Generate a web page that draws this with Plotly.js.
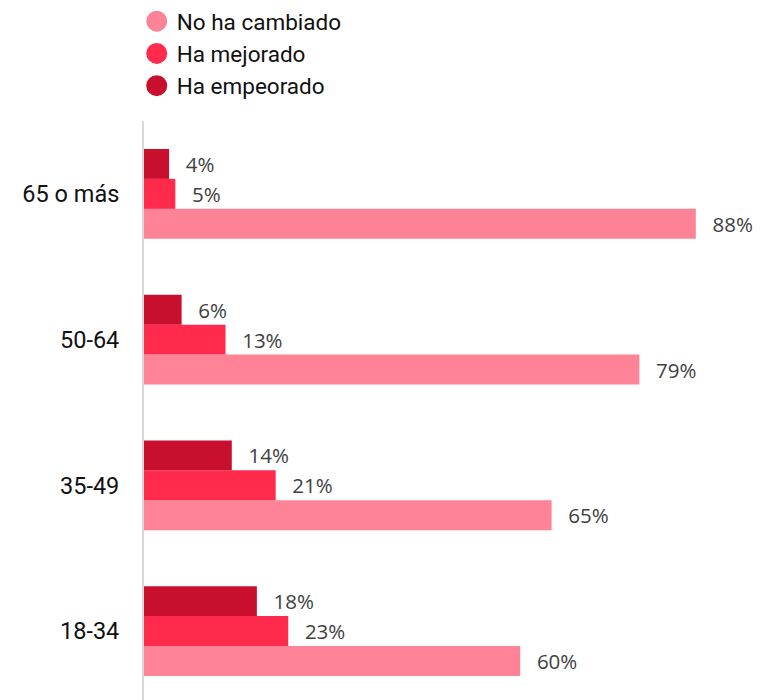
<!DOCTYPE html>
<html>
<head>
<meta charset="utf-8">
<script src="https://cdn.plot.ly/plotly-3.0.1.min.js"></script>
<style>html,body{margin:0;padding:0;background:#fff;}#chart{width:761px;height:700px;}</style>
</head>
<body>
<div id="chart"></div>
<script>
const categories = ["18-34", "35-49", "50-64", "65 o más"];
const seriesNames = ["No ha cambiado", "Ha mejorado", "Ha empeorado"];
const noHaCambiado = [60, 65, 79, 88];
const haMejorado = [23, 21, 13, 5];
const haEmpeorado = [18, 14, 6, 4];
const colors = ["#FF8396", "#FF2A4C", "#C8102E"];

const seriesValues = [noHaCambiado, haMejorado, haEmpeorado];

const traces = [];
seriesValues.forEach((vals, i) => {
  traces.push({
    type: 'bar',
    orientation: 'h',
    name: seriesNames[i],
    y: categories,
    x: vals,
    marker: {color: colors[i]},
    text: vals.map(v => '\u2002\u2009' + v + '%'),
    texttemplate: '%{text}',
    textposition: 'outside',
    textfont: {family: 'Open Sans', size: 20.5, color: '#404040'},
    constraintext: 'none',
    cliponaxis: false,
    showlegend: false,
    hoverinfo: 'skip'
  });
});
seriesNames.forEach((n, i) => {
  traces.push({
    type: 'scatter',
    mode: 'markers',
    name: n,
    x: [null],
    y: [null],
    marker: {color: colors[i], size: 16, symbol: 'circle', line: {color: colors[i], width: 5}},
    showlegend: true
  });
});

const layout = {
  width: 761,
  height: 700,
  margin: {l: 144, r: 10, t: 120, b: 0, pad: 0},
  paper_bgcolor: '#ffffff',
  plot_bgcolor: '#ffffff',
  barmode: 'group',
  bargap: 0.384,
  bargroupgap: 0,
  font: {family: 'Roboto', size: 22, color: '#111111'},
  xaxis: {
    range: [0, 96.8],
    showticklabels: false,
    showgrid: false,
    zeroline: false,
    showline: false,
    fixedrange: true
  },
  yaxis: {
    type: 'category',
    categoryorder: 'array',
    categoryarray: categories,
    range: [-0.473, 3.5],
    showline: true,
    linecolor: '#d9d9d9',
    linewidth: 2,
    showgrid: false,
    zeroline: false,
    ticks: '',
    ticklabelstandoff: 18,
    tickfont: {family: 'Roboto', size: 23.5, color: '#111111'}
  },
  showlegend: true,
  legend: {
    x: -0.012,
    xanchor: 'left',
    y: 1.21,
    yanchor: 'top',
    traceorder: 'normal',
    orientation: 'v',
    font: {family: 'Roboto', size: 22.5, color: '#111111'},
    bgcolor: 'rgba(0,0,0,0)',
    itemclick: false,
    tracegroupgap: 0
  }
};

Plotly.newPlot('chart', traces, layout, {displayModeBar: false, staticPlot: true});
</script>
</body>
</html>
